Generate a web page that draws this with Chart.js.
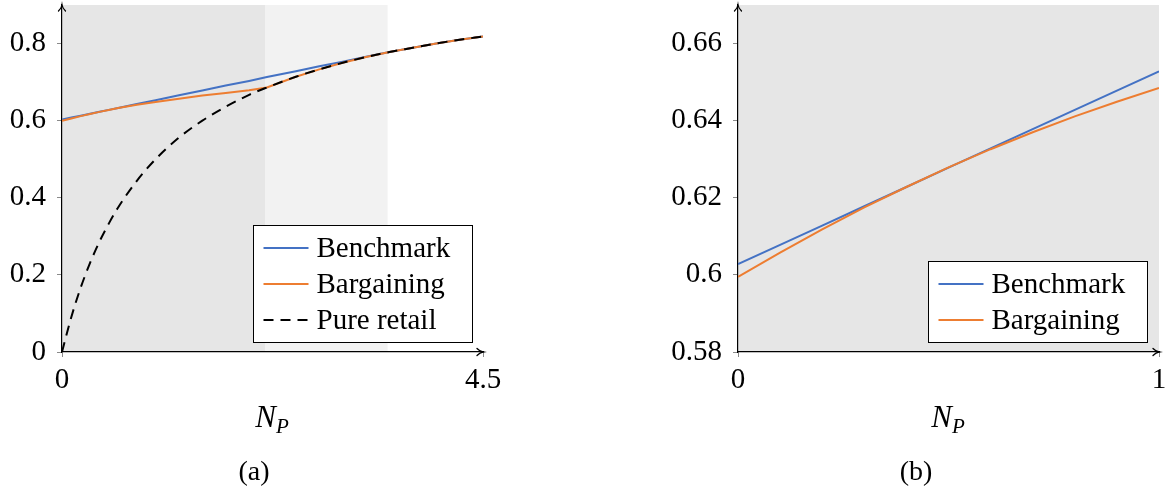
<!DOCTYPE html>
<html>
<head>
<meta charset="utf-8">
<title>N_P</title>
<script src="https://cdn.jsdelivr.net/npm/chart.js@4.4.1/dist/chart.umd.min.js"></script>
<style>
  body { margin: 0; background: #fff; }
  #wrap { position: relative; width: 1173px; height: 493px; font-family: "Liberation Serif", serif; color: #000; }
  canvas { position: absolute; top: 0; }
  #chartA { left: 0; }
  #chartB { left: 586px; }
  .lbl { position: absolute; font-size: 28px; line-height: 1; transform: translateX(-50%); white-space: nowrap; }
  .lbl.ax { font-size: 31px; }
  .lbl sub { font-size: 21px; vertical-align: -6px; line-height: 0; }
</style>
</head>
<body>
<div id="wrap">
  <canvas id="chartA" width="586" height="493"></canvas>
  <canvas id="chartB" width="587" height="493"></canvas>
  <div class="lbl ax" style="left:272px; top:401px"><i>N</i><sub><i>P</i></sub></div>
  <div class="lbl ax" style="left:948px; top:401px"><i>N</i><sub><i>P</i></sub></div>
  <div class="lbl" style="left:254px; top:457px">(a)</div>
  <div class="lbl" style="left:916px; top:457px">(b)</div>
</div>
<script>
// ---- panel (a): whole range of N_P ----
const xA = [0, 0.1, 0.2, 0.3, 0.4, 0.5, 0.6, 0.8, 1.0, 1.25, 1.5, 1.75, 2.0, 2.19, 2.5, 2.75, 3.0, 3.25, 3.5, 3.75, 4.0, 4.25, 4.5];
const benchA = [0.603, 0.608, 0.613, 0.618, 0.623, 0.628, 0.633, 0.643, 0.653, 0.666, 0.678, 0.691, 0.703, 0.713, 0.728, 0.741, 0.753, 0.766, 0.778, 0.789, 0.8, 0.81, 0.818];
const bargA = [0.5995, 0.6058, 0.6118, 0.6175, 0.6228, 0.6279, 0.6326, 0.6411, 0.6485, 0.657, 0.665, 0.672, 0.679, 0.686, 0.714, 0.733, 0.75, 0.765, 0.778, 0.789, 0.8, 0.81, 0.818];
const pureA = [0, 0.091, 0.167, 0.231, 0.286, 0.333, 0.375, 0.444, 0.5, 0.556, 0.6, 0.636, 0.667, 0.686, 0.714, 0.733, 0.75, 0.765, 0.778, 0.789, 0.8, 0.81, 0.818];
const xTicksA = [0, 4.5];
const xTickLabelsA = ['0', '4.5'];
const yTicksA = [0, 0.2, 0.4, 0.6, 0.8];
const yTickLabelsA = ['0', '0.2', '0.4', '0.6', '0.8'];
const bandFromA = [0, 2.17];
const bandToA = [2.17, 3.48];

// ---- panel (b): zoom on N_P in [0, 1] ----
const xB = [0, 0.1, 0.2, 0.3, 0.4, 0.5, 0.6, 0.7, 0.8, 0.9, 1.0];
const benchB = [0.6028, 0.6078, 0.6128, 0.6178, 0.6228, 0.6278, 0.6328, 0.6378, 0.6428, 0.6478, 0.6528];
const bargB = [0.5995, 0.6058, 0.6118, 0.6175, 0.6228, 0.6279, 0.6326, 0.6370, 0.6411, 0.6449, 0.6485];
const xTicksB = [0, 1];
const xTickLabelsB = ['0', '1'];
const yTicksB = [0.58, 0.6, 0.62, 0.64, 0.66];
const yTickLabelsB = ['0.58', '0.6', '0.62', '0.64', '0.66'];
const bandFromB = [0];
const bandToB = [1];

const BLUE = '#4472C4';
const ORANGE = '#ED7D31';
const BAND_COLORS = ['#e6e6e6', '#f2f2f2'];
const FONT = '"Liberation Serif", serif';
const TEXT_SIZE = 29;

Chart.defaults.font.family = FONT;
Chart.defaults.color = '#000';

function points(xs, ys) {
  return xs.map((x, i) => ({ x: x, y: ys[i] }));
}

// grey background bands, drawn before the axes and lines
function makeBands(from, to) {
  return {
    id: 'bands',
    beforeDraw(chart) {
      const { ctx, chartArea: a, scales: { x } } = chart;
      ctx.save();
      from.forEach((v, i) => {
        const x0 = x.getPixelForValue(v);
        const x1 = x.getPixelForValue(to[i]);
        ctx.fillStyle = BAND_COLORS[i];
        ctx.fillRect(x0, a.top, x1 - x0, a.bottom - a.top);
      });
      ctx.restore();
    }
  };
}

// arrow tips at the ends of both axes
const axisArrows = {
  id: 'axisArrows',
  afterDraw(chart) {
    const { ctx, chartArea: a } = chart;
    ctx.save();
    ctx.strokeStyle = '#000';
    ctx.lineWidth = 1.3;
    ctx.lineCap = 'round';
    ctx.beginPath();
    ctx.moveTo(a.left - 3.5, a.top + 6);
    ctx.quadraticCurveTo(a.left - 0.5, a.top + 3, a.left, a.top);
    ctx.quadraticCurveTo(a.left + 0.5, a.top + 3, a.left + 3.5, a.top + 6);
    ctx.moveTo(a.right - 6, a.bottom - 3.5);
    ctx.quadraticCurveTo(a.right - 3, a.bottom - 0.5, a.right, a.bottom);
    ctx.quadraticCurveTo(a.right - 3, a.bottom + 0.5, a.right - 6, a.bottom + 3.5);
    ctx.stroke();
    ctx.restore();
  }
};

// boxed legend in the lower right corner of the plot area
function makeLegend(rightGap, bottomGap) {
  return {
    id: 'legendBox',
    afterDraw(chart) {
      const { ctx, chartArea: a } = chart;
      const sets = chart.data.datasets;
      const rowH = 36, boxW = 219;
      const h = sets.length * rowH + 9;
      const x0 = Math.round(a.right - rightGap - boxW) + 0.5;
      const y0 = Math.round(a.bottom - bottomGap - h) + 0.5;
      ctx.save();
      ctx.fillStyle = '#fff';
      ctx.fillRect(x0, y0, boxW, h);
      ctx.strokeStyle = '#000';
      ctx.lineWidth = 1;
      ctx.strokeRect(x0, y0, boxW, h);
      ctx.font = TEXT_SIZE + 'px ' + FONT;
      ctx.textBaseline = 'middle';
      sets.forEach((ds, i) => {
        const cy = y0 + 4.5 + rowH / 2 + i * rowH;
        ctx.beginPath();
        ctx.setLineDash(ds.borderDash || []);
        ctx.strokeStyle = ds.borderColor;
        ctx.lineWidth = ds.borderWidth;
        ctx.moveTo(x0 + 10, cy);
        ctx.lineTo(x0 + 55, cy);
        ctx.stroke();
        ctx.setLineDash([]);
        ctx.fillStyle = '#000';
        ctx.fillText(ds.label, x0 + 63, cy + 1);
      });
      ctx.restore();
    }
  };
}

function axisOptions(min, max, tickValues, tickLabels, isX, size) {
  return {
    type: 'linear',
    min: min,
    max: max,
    afterFit(scale) {
      if (isX) scale.height = 141; else scale.width = size;
      // keep the plot area where it is, labels may hang over its edges
      scale.paddingTop = 0;
      scale.paddingBottom = 0;
      scale.paddingLeft = 0;
      scale.paddingRight = 0;
    },
    afterBuildTicks(scale) {
      scale.ticks = tickValues.map(v => ({ value: v }));
    },
    ticks: {
      font: { size: TEXT_SIZE },
      color: '#000',
      padding: isX ? 6 : 11,
      maxRotation: 0,
      autoSkip: false,
      callback: (value, index) => tickLabels[index]
    },
    grid: { drawOnChartArea: false, drawTicks: true, tickLength: 5, color: '#8a8a8a', lineWidth: 1 },
    border: { display: true, color: '#000', width: 1.2 }
  };
}

function lineSet(label, data, color, extra) {
  return Object.assign({
    label: label,
    data: data,
    borderColor: color,
    borderWidth: 2,
    pointRadius: 0,
    fill: false,
    tension: 0
  }, extra || {});
}

new Chart(document.getElementById('chartA'), {
  type: 'line',
  data: {
    datasets: [
      lineSet('Benchmark', points(xA, benchA), BLUE, { order: 3 }),
      lineSet('Bargaining', points(xA, bargA), ORANGE, { order: 2 }),
      lineSet('Pure retail', points(xA, pureA), '#000', { order: 1, borderDash: [10, 7], cubicInterpolationMode: 'monotone' })
    ]
  },
  options: {
    responsive: false,
    animation: false,
    events: [],
    layout: { padding: { left: 0, top: 5, right: 103, bottom: 0 } },
    plugins: { legend: { display: false }, tooltip: { enabled: false } },
    scales: {
      x: axisOptions(0, 4.5, xTicksA, xTickLabelsA, true),
      y: axisOptions(0, 0.9, yTicksA, yTickLabelsA, false, 62)
    }
  },
  plugins: [makeBands(bandFromA, bandToA), axisArrows, makeLegend(11, 10)]
});

new Chart(document.getElementById('chartB'), {
  type: 'line',
  data: {
    datasets: [
      lineSet('Benchmark', points(xB, benchB), BLUE, { order: 2 }),
      lineSet('Bargaining', points(xB, bargB), ORANGE, { order: 1 })
    ]
  },
  options: {
    responsive: false,
    animation: false,
    events: [],
    layout: { padding: { left: 0, top: 5, right: 14, bottom: 0 } },
    plugins: { legend: { display: false }, tooltip: { enabled: false } },
    scales: {
      x: axisOptions(0, 1, xTicksB, xTickLabelsB, true),
      y: axisOptions(0.58, 0.67, yTicksB, yTickLabelsB, false, 152)
    }
  },
  plugins: [makeBands(bandFromB, bandToB), axisArrows, makeLegend(12, 10)]
});
</script>
</body>
</html>
